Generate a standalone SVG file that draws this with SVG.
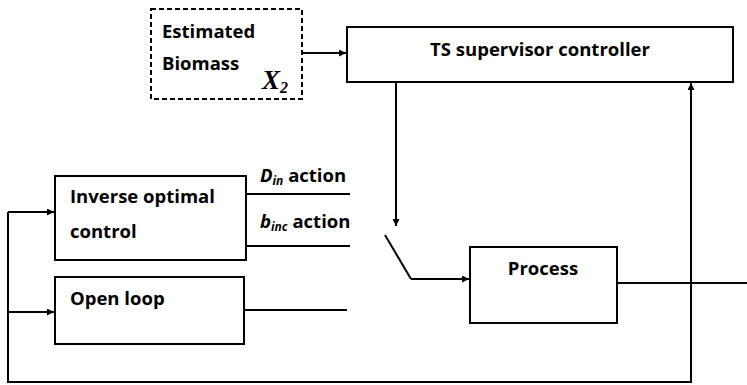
<svg xmlns="http://www.w3.org/2000/svg" width="747" height="385" viewBox="0 0 747 385">
<defs>
<marker id="ah" viewBox="0 0 10 10" refX="10" refY="5" markerWidth="7" markerHeight="7" markerUnits="userSpaceOnUse" orient="auto"><path d="M0,0 L10,5 L0,10 z" fill="#000"/></marker>
<style>
.box{fill:#fff;stroke:#000;stroke-width:2}
.dash{fill:#fff;stroke:#000;stroke-width:2;stroke-dasharray:5,3}
.t{font-family:"Open Sans","Liberation Sans",sans-serif;font-weight:bold;font-size:18.5px;fill:#000}
.ln{fill:none;stroke:#000;stroke-width:2}
.ar{fill:none;stroke:#000;stroke-width:2;marker-end:url(#ah)}
</style>
</defs>
<rect width="747" height="385" fill="#fff"/>
<g id="estimated">
<rect class="dash" x="151" y="9" width="151" height="90"/>
<text class="t" x="162" y="38">Estimated</text>
<text class="t" x="162" y="70">Biomass</text>
<text x="262" y="89" font-family="Liberation Serif,serif" font-style="italic" font-weight="bold" font-size="27">X<tspan font-size="16" dy="4">2</tspan></text>
</g>
<g id="ts">
<rect class="box" x="347" y="27" width="386" height="55"/>
<text class="t" x="540" y="56" text-anchor="middle">TS supervisor controller</text>
</g>
<g id="inverse">
<rect class="box" x="55" y="176" width="191" height="84"/>
<text class="t" x="70" y="203">Inverse optimal</text>
<text class="t" x="70" y="238">control</text>
</g>
<g id="openloop">
<rect class="box" x="55" y="277" width="189" height="67"/>
<text class="t" x="70" y="305">Open loop</text>
</g>
<g id="process">
<rect class="box" x="470" y="247" width="147" height="76"/>
<text class="t" x="543" y="275" text-anchor="middle">Process</text>
</g>
<g id="labels">
<text class="t" x="260" y="182" font-style="italic">D<tspan font-size="12" dy="3">in</tspan><tspan dy="-3" font-style="normal"> action</tspan></text>
<text class="t" x="260" y="228" font-style="italic">b<tspan font-size="12" dy="3">inc</tspan><tspan dy="-3" font-style="normal"> action</tspan></text>
</g>
<g id="connectors">
<path class="ar" d="M302,53 H346"/>
<path class="ar" d="M396,82 V226"/>
<path class="ln" d="M385,235 L411,279"/>
<path class="ar" d="M411,279 H469"/>
<path class="ln" d="M246,194 H350"/>
<path class="ln" d="M246,246 H350"/>
<path class="ln" d="M244,310 H347"/>
<path class="ln" d="M617,283 H747"/>
<path class="ar" d="M691,383 V83"/>
<path class="ln" d="M691,382 H8 V212"/>
<path class="ar" d="M8,212 H54"/>
<path class="ar" d="M8,312 H54"/>
</g>
</svg>
